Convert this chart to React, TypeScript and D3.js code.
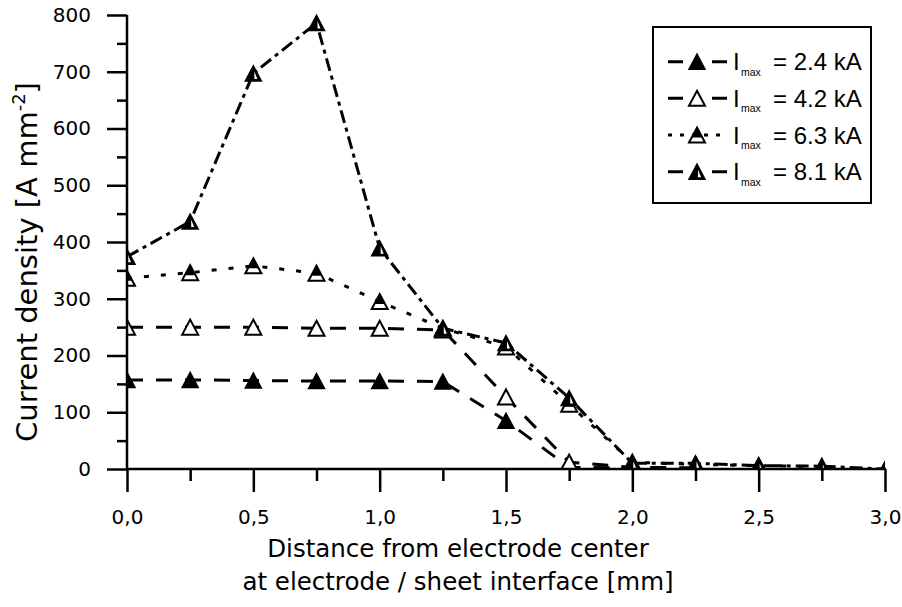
import React, { useEffect, useRef } from 'react';
import * as d3 from 'd3';

// distance from electrode center [mm]
const xs = [0, 0.25, 0.5, 0.75, 1.0, 1.25, 1.5, 1.75, 2.0, 2.25, 2.5, 2.75, 3.0];

// current density [A mm^-2] per Imax
const i24 = [157, 157, 156, 155, 155, 154, 85, 3, 2];
const i42 = [250, 250, 250, 248, 248, 245, 127, 12, 3, 2];
const i63 = [336, 346, 358, 345, 295, 248, 215, 114, 12, 8, 6, 4];
const i81 = [374, 436, 697, 786, 389, 248, 222, 125, 10, 10, 6, 5, 0];

const seriesNames = ['= 2.4 kA', '= 4.2 kA', '= 6.3 kA', '= 8.1 kA'];
const yTicks = [0, 100, 200, 300, 400, 500, 600, 700, 800];
const xTicks = [0, 0.5, 1.0, 1.5, 2.0, 2.5, 3.0];

const W = 902;
const H = 607;
const L = 127, R = 885, T = 15, B = 469;

const series = [
  { vals: i24, dash: '16,13', marker: 'filled' },
  { vals: i42, dash: '16,13', marker: 'hollow' },
  { vals: i63, dash: '5,12', marker: 'top' },
  { vals: i81, dash: '13,5,4,5', marker: 'left' },
];

function Marker({ cx, cy, kind }: { cx: number; cy: number; kind: string }) {
  const w = 8, h = 7.5;
  const pts = `${cx},${cy - h} ${cx + w},${cy + h} ${cx - w},${cy + h}`;
  if (kind === 'filled') return <polygon points={pts} fill="#000" stroke="#000" strokeWidth={1.5} />;
  if (kind === 'hollow') return <polygon points={pts} fill="#fff" stroke="#000" strokeWidth={2} />;
  if (kind === 'top') {
    // black upper part, white strip, black base
    const yb = cy + h - 5;
    const f = (yb - (cy - h)) / (2 * h);
    return (
      <g>
        <polygon points={pts} fill="#fff" stroke="#000" strokeWidth={2} />
        <polygon points={`${cx},${cy - h} ${cx + w * f},${yb} ${cx - w * f},${yb}`} fill="#000" />
      </g>
    );
  }
  return (
    <g>
      <polygon points={pts} fill="#000" stroke="#000" strokeWidth={1.5} />
      <polygon points={`${cx + 1},${cy - 2} ${cx + 4},${cy + h - 2} ${cx + 1},${cy + h - 2}`} fill="#fff" />
    </g>
  );
}

export default function App() {
  const axRef = useRef<SVGGElement>(null);

  const x = d3.scaleLinear().domain([0, 3]).range([L, R]);
  const y = d3.scaleLinear().domain([0, 800]).range([B, T]);

  useEffect(() => {
    const g = d3.select(axRef.current);
    g.selectAll('*').remove();

    const fmt = (d: any) => d3.format('.1f')(d).replace('.', ',');

    const xMinor = g.append('g').attr('transform', `translate(0,${B})`)
      .call(d3.axisBottom(x).tickValues([0.25, 0.75, 1.25, 1.75, 2.25, 2.75]).tickSize(12).tickFormat(() => ''));
    const xMajor = g.append('g').attr('transform', `translate(0,${B})`)
      .call(d3.axisBottom(x).tickValues(xTicks).tickSize(23).tickPadding(18).tickFormat(fmt));
    const yMinor = g.append('g').attr('transform', `translate(${L},0)`)
      .call(d3.axisLeft(y).tickValues([50, 150, 250, 350, 450, 550, 650, 750]).tickSize(10).tickFormat(() => ''));
    const yMajor = g.append('g').attr('transform', `translate(${L},0)`)
      .call(d3.axisLeft(y).tickValues(yTicks).tickSize(20).tickPadding(16));

    [xMinor, xMajor, yMinor, yMajor].forEach(a => {
      a.select('.domain').remove();
      a.selectAll('line').attr('stroke', '#000').attr('stroke-width', 2.5);
      a.selectAll('text').attr('fill', '#000').style('font-family', 'DejaVu Sans').style('font-size', '20px');
    });

    g.append('line').attr('x1', L).attr('x2', L).attr('y1', T).attr('y2', B + 1)
      .attr('stroke', '#000').attr('stroke-width', 2.5);
    g.append('line').attr('x1', L - 1).attr('x2', R + 1).attr('y1', B).attr('y2', B)
      .attr('stroke', '#000').attr('stroke-width', 2.5);
  }, []);

  const line = d3.line<number>().x((_, i) => x(xs[i])).y(d => y(d));

  const rowY = [61.7, 98.3, 135, 171.7];

  return (
    <svg width={W} height={H} style={{ display: 'block', position: 'absolute', left: 0, top: 0, background: '#fff' }}>
      <defs>
        <clipPath id="plot">
          <rect x={L} y={T - 2} width={R - L} height={B - T + 2} />
        </clipPath>
      </defs>
      <rect width={W} height={H} fill="#fff" />

      <g clipPath="url(#plot)">
        {series.map((s, k) => (
          <path key={'l' + k} d={line(s.vals) || ''} fill="none" stroke="#000" strokeWidth={3}
            strokeDasharray={s.dash} />
        ))}
        {series.map((s, k) => (
          <g key={'m' + k}>
            {s.vals.map((v, i) => <Marker key={i} cx={x(xs[i])} cy={y(v)} kind={s.marker} />)}
          </g>
        ))}
      </g>

      <g ref={axRef} />

      <text transform={`translate(37,262) rotate(-90)`} textAnchor="middle"
        style={{ fontFamily: 'DejaVu Sans', fontSize: 29 }}>
        Current density [A mm<tspan dy={-12} style={{ fontSize: 18 }}>-2</tspan><tspan dy={12}>]</tspan>
      </text>
      <text x={458} y={557} textAnchor="middle" style={{ fontFamily: 'DejaVu Sans', fontSize: 24.5 }}>
        Distance from electrode center
      </text>
      <text x={458} y={590} textAnchor="middle" style={{ fontFamily: 'DejaVu Sans', fontSize: 24.5 }}>
        at electrode / sheet interface [mm]
      </text>

      <rect x={653} y={27} width={218} height={176} fill="#fff" stroke="#000" strokeWidth={2} />
      {series.map((s, k) => (
        <g key={'g' + k}>
          <line x1={668} x2={727} y1={rowY[k]} y2={rowY[k]} stroke="#000" strokeWidth={3}
            strokeDasharray={k === 2 ? '4,8' : '15,29'} />
          <Marker cx={697} cy={rowY[k]} kind={s.marker} />
          <text x={733} y={rowY[k] + 8.5} style={{ fontFamily: 'Liberation Sans', fontSize: 24 }}>I</text>
          <text x={741} y={rowY[k] + 14} style={{ fontFamily: 'Liberation Sans', fontSize: 10.5 }}>max</text>
          <text x={773} y={rowY[k] + 8.5} style={{ fontFamily: 'Liberation Sans', fontSize: 24 }}>{seriesNames[k]}</text>
        </g>
      ))}
    </svg>
  );
}
